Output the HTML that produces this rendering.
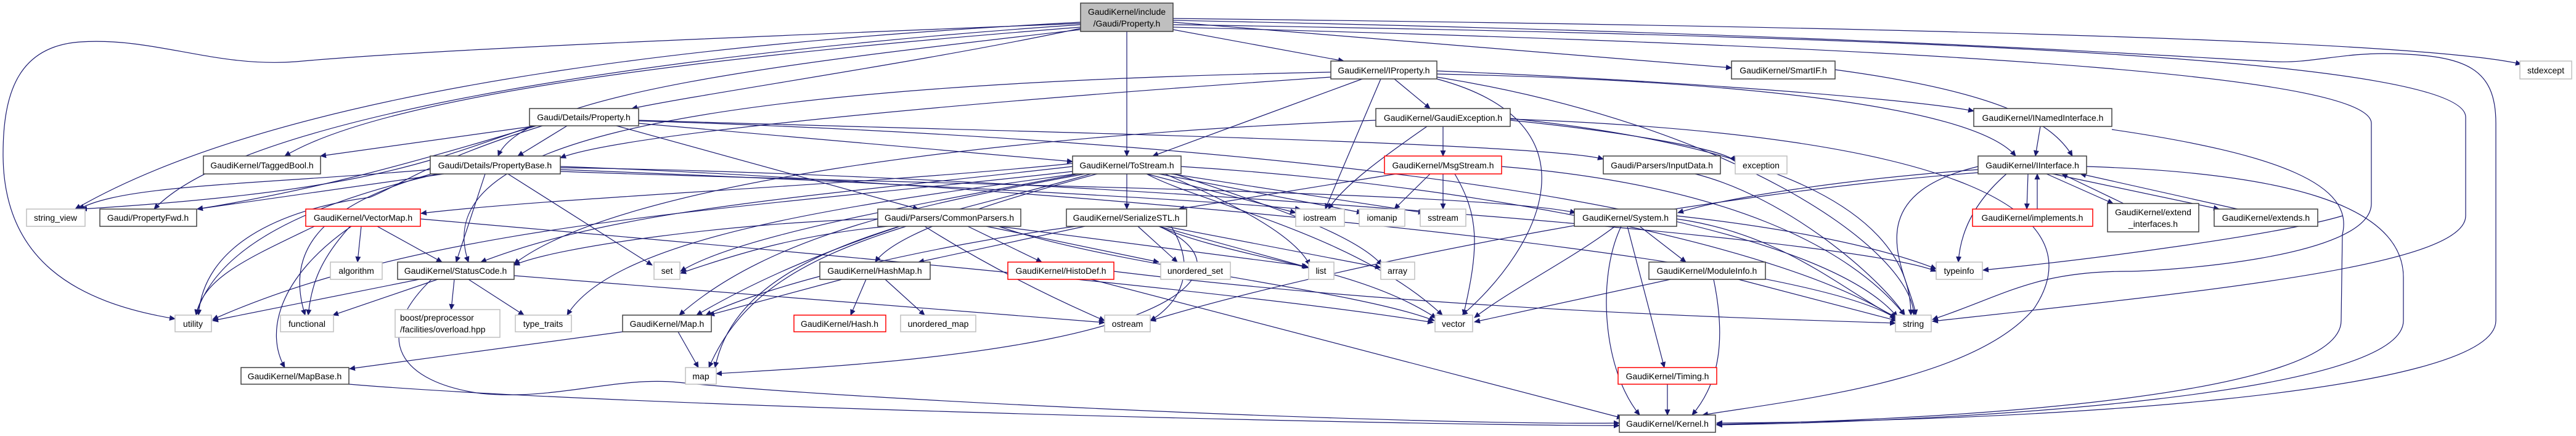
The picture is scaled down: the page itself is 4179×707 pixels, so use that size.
<!DOCTYPE html>
<html><head><meta charset="utf-8"><style>
html,body{margin:0;padding:0;background:#fff;}
svg{display:block;}
text{font-family:"Liberation Sans",sans-serif;font-size:14px;fill:#000;}
.n{fill:#fff;stroke:#404040;stroke-width:1.5;}
.g{fill:#fff;stroke:#bfbfbf;stroke-width:1.5;}
.r{fill:#fff;stroke:#ff0000;stroke-width:1.5;}
.e{fill:none;stroke:#191970;stroke-width:1.2;marker-end:url(#a);}
</style></head><body>
<svg width="4179" height="707" viewBox="0 0 4179 707" xmlns="http://www.w3.org/2000/svg">
<defs><marker id="a" markerWidth="10" markerHeight="10" refX="9" refY="5" orient="auto" markerUnits="userSpaceOnUse"><path d="M0,0.5 L10,5 L0,9.5 z" fill="#191970"/></marker></defs>
<g>
<!-- root edges -->
<path class="e" d="M1753,36 C1300,60 500,120 122,339"/>
<path class="e" d="M1753,40 C1300,70 420,160 250,339"/>
<path class="e" d="M1753,44 C1300,80 650,140 462,253"/>
<path class="e" d="M1753,48 C1300,100 850,150 808,253"/>
<path class="e" d="M1753,46 C1500,100 1150,150 1025,176"/>
<path class="e" d="M1753,38 C1200,60 700,80 480,100 C350,110 250,60 130,68 C30,75 5,150 5,250 C5,420 120,490 284,517"/>
<path class="e" d="M1828,51 L1828,253"/>
<path class="e" d="M1903,48 L2180,99"/>
<path class="e" d="M1903,36 L2809,110"/>
<path class="e" d="M1903,30 C2800,40 3900,60 4090,104"/>
<path class="e" d="M1903,33 C3000,55 3500,90 3690,100 C3750,103 3800,85 3880,87 C4000,90 4049,110 4049,200 L4049,520 C4049,640 3300,683 2785,686"/>
<path class="e" d="M1903,40 C3200,60 4000,100 4000,190 L4000,350 C4000,430 3600,470 3135,521"/>
<path class="e" d="M1903,44 C3300,80 3847,130 3847,200 L3847,330 C3847,420 3500,440 3450,440 C3300,440 3250,480 3135,518"/>
<!-- Property.h -->
<path class="e" d="M870,204 L520,253"/>
<path class="e" d="M920,204 L840,253"/>
<path class="e" d="M865,204 C700,260 600,310 132,339"/>
<path class="e" d="M870,204 C650,270 500,310 320,339"/>
<path class="e" d="M880,204 C700,260 650,300 600,320 C450,340 330,400 322,511"/>
<path class="e" d="M1036,200 L1740,262"/>
<path class="e" d="M1036,195 C1500,210 2500,230 2601,258"/>
<path class="e" d="M1000,204 L1490,339"/>
<path class="e" d="M1036,196 C1800,220 2900,300 3078,514"/>
<!-- PropertyBase -->
<path class="e" d="M698,275 C400,300 200,300 128,339"/>
<path class="e" d="M720,282 L320,339"/>
<path class="e" d="M710,282 C500,330 350,400 318,511"/>
<path class="e" d="M700,282 C530,330 460,400 495,511"/>
<path class="e" d="M787,282 L740,425"/>
<path class="e" d="M824,282 L1058,430"/>
<path class="e" d="M909,270 C1500,290 2900,400 3075,516"/>
<path class="e" d="M909,272 C1600,280 3000,380 3141,440"/>
<path class="e" d="M909,275 C1300,290 1900,320 2110,339"/>
<path class="e" d="M909,278 C1500,300 2400,310 2556,345"/>
<!-- VectorMap -->
<path class="e" d="M586,367 L580,425"/>
<path class="e" d="M612,367 L717,425"/>
<path class="e" d="M510,367 C400,420 330,450 318,511"/>
<path class="e" d="M568,367 C520,420 505,460 500,511"/>
<path class="e" d="M570,367 C450,450 430,540 462,596"/>
<path class="e" d="M682,355 C1200,400 2000,470 2325,523"/>
<!-- StatusCode -->
<path class="e" d="M680,453 L345,520"/>
<path class="e" d="M710,453 L540,511"/>
<path class="e" d="M737,453 L732,502"/>
<path class="e" d="M760,453 L850,511"/>
<path class="e" d="M834,447 L1792,523"/>
<path class="e" d="M700,453 C600,550 650,620 780,638 C900,650 1000,610 1100,620 C1400,650 2300,690 2627,686"/>
<!-- Map / MapBase / HashMap -->
<path class="e" d="M1100,538 L1133,596"/>
<path class="e" d="M1010,538 L567,598"/>
<path class="e" d="M566,623 C1000,660 2300,690 2627,690"/>
<path class="e" d="M1366,453 L1150,511"/>
<path class="e" d="M1405,453 L1380,511"/>
<path class="e" d="M1436,453 L1500,511"/>
<!-- ToStream -->
<path class="e" d="M1740,270 C1300,320 1000,340 780,425"/>
<path class="e" d="M1740,265 C1400,300 900,320 683,346"/>
<path class="e" d="M1760,282 C1500,330 1250,380 1102,511"/>
<path class="e" d="M1780,282 C1600,330 1450,380 1420,425"/>
<path class="e" d="M1828,282 L1828,339"/>
<path class="e" d="M1860,282 L2102,345"/>
<path class="e" d="M1880,282 L2210,345"/>
<path class="e" d="M1900,282 L2310,345"/>
<path class="e" d="M1890,282 C2000,330 2100,380 2125,430"/>
<path class="e" d="M1905,282 C2050,330 2200,380 2242,430"/>
<path class="e" d="M1860,282 C1950,330 2200,380 2340,511"/>
<path class="e" d="M1750,282 C1500,330 1200,380 1104,440"/>
<path class="e" d="M1770,282 C1500,360 1200,400 1160,596"/>
<path class="e" d="M1745,282 C1400,330 1000,380 920,511"/>
<path class="e" d="M1916,270 C2400,300 2900,400 3077,517"/>
<path class="e" d="M1740,278 C1200,340 700,360 345,518"/>
<!-- IProperty -->
<path class="e" d="M2210,128 L1870,253"/>
<path class="e" d="M2240,128 L2150,339"/>
<path class="e" d="M2262,128 L2320,176"/>
<path class="e" d="M2159,125 C1500,170 1000,220 909,256"/>
<path class="e" d="M2159,117 C1000,140 700,250 760,425"/>
<path class="e" d="M2331,120 C2800,130 3200,170 3270,253"/>
<path class="e" d="M2331,115 C2700,130 3100,160 3202,180"/>
<path class="e" d="M2331,125 C2800,200 3100,400 3105,511"/>
<path class="e" d="M2331,128 C2600,200 2500,400 2372,511"/>
<!-- GaudiException -->
<path class="e" d="M2341,205 L2341,253"/>
<path class="e" d="M2315,205 C2250,250 2180,300 2155,339"/>
<path class="e" d="M2450,195 C2600,210 2800,240 2815,262"/>
<path class="e" d="M2232,195 C1600,220 1000,300 834,428"/>
<path class="e" d="M2450,192 C2900,240 3100,350 3100,511"/>
<path class="e" d="M2450,193 C3200,220 3400,350 3300,500 C3200,620 2900,650 2762,673"/>
<!-- MsgStream -->
<path class="e" d="M2320,282 L2262,339"/>
<path class="e" d="M2341,282 L2341,339"/>
<path class="e" d="M2265,282 L1912,339"/>
<path class="e" d="M2360,282 C2400,350 2400,400 2374,511"/>
<path class="e" d="M2436,270 C2800,300 3000,400 3090,511"/>
<!-- CommonParsers -->
<path class="e" d="M1570,367 L1690,425"/>
<path class="e" d="M1600,367 L1880,425"/>
<path class="e" d="M1620,367 L2121,432"/>
<path class="e" d="M1440,367 C1300,380 1200,410 1104,443"/>
<path class="e" d="M1470,367 C1300,420 1200,480 1150,596"/>
<path class="e" d="M1424,355 C1200,360 900,400 834,430"/>
<path class="e" d="M1500,367 C1600,430 1700,480 1792,520"/>
<path class="e" d="M1620,367 C1800,430 2200,470 2327,520"/>
<path class="e" d="M1460,367 C1300,420 1200,470 1130,511"/>
<!-- SerializeSTL -->
<path class="e" d="M1760,367 L1490,425"/>
<path class="e" d="M1745,367 C1500,400 1250,460 1145,511"/>
<path class="e" d="M1900,367 C1950,450 1900,500 1866,520"/>
<path class="e" d="M1880,367 L2123,434"/>
<path class="e" d="M1890,367 L2240,434"/>
<path class="e" d="M1880,367 C2000,420 2200,430 2330,516"/>
<path class="e" d="M1846,367 L1910,425"/>
<path class="e" d="M1880,367 C2000,420 1950,500 1700,550 C1500,590 1250,600 1162,606"/>
<!-- HistoDef -->
<path class="e" d="M1770,453 L2632,678"/>
<path class="e" d="M1807,440 C2300,500 2800,515 3075,524"/>
<!-- System -->
<path class="e" d="M2660,367 L2735,425"/>
<path class="e" d="M2640,367 L2700,596"/>
<path class="e" d="M2630,367 C2590,450 2600,600 2660,673"/>
<path class="e" d="M2620,367 C2550,420 2450,470 2392,515"/>
<path class="e" d="M2720,355 C2900,380 3000,480 3078,515"/>
<path class="e" d="M2720,350 C2900,370 3050,400 3141,436"/>
<!-- ModuleInfo / Timing -->
<path class="e" d="M2710,453 L2392,522"/>
<path class="e" d="M2780,453 C2800,550 2790,620 2745,673"/>
<path class="e" d="M2820,453 L3077,520"/>
<path class="e" d="M2705,623 L2705,673"/>
<!-- SmartIF / INamedInterface / IInterface -->
<path class="e" d="M2977,113 C3250,150 3330,200 3362,253"/>
<path class="e" d="M3310,205 L3302,253"/>
<path class="e" d="M3426,210 C3700,250 3820,300 3800,380 L3798,520 C3798,640 3200,680 2785,688"/>
<path class="e" d="M3385,270 C3700,280 3899,330 3899,450 L3899,520 C3899,640 3200,683 2785,689"/>
<path class="e" d="M3290,282 L3288,339"/>
<path class="e" d="M3305,339 L3305,282"/>
<path class="e" d="M3320,282 L3428,330"/>
<path class="e" d="M3445,330 L3345,282"/>
<path class="e" d="M3330,282 L3600,339"/>
<path class="e" d="M3630,339 L3375,282"/>
<path class="e" d="M3255,282 C3200,330 3180,380 3177,425"/>
<path class="e" d="M3209,275 C3000,290 2800,320 2722,345"/>
<path class="e" d="M3209,280 C2800,310 2200,420 1866,520"/>
<path class="e" d="M3209,270 C3000,320 3100,450 3108,511"/>
<path class="e" d="M2750,282 C2900,320 3050,450 3090,511"/>
<path class="e" d="M3800,350 C3700,380 3400,420 3217,438"/>
</g>
<g>
<rect x="1753" y="5" width="150" height="46" fill="#bfbfbf" stroke="#404040" stroke-width="1.5"/>
<text x="1828" y="24" text-anchor="middle">GaudiKernel/include</text><text x="1828" y="43" text-anchor="middle">/Gaudi/Property.h</text>

<rect class="n" x="2159" y="99" width="172" height="29"/><text x="2245" y="119" text-anchor="middle">GaudiKernel/IProperty.h</text>
<rect class="n" x="2809" y="99" width="168" height="29"/><text x="2893" y="119" text-anchor="middle">GaudiKernel/SmartIF.h</text>
<rect class="g" x="4088" y="99" width="84" height="29"/><text x="4130" y="119" text-anchor="middle">stdexcept</text>
<rect class="n" x="859" y="176" width="177" height="28"/><text x="947" y="195" text-anchor="middle">Gaudi/Details/Property.h</text>
<rect class="n" x="2232" y="176" width="218" height="29"/><text x="2341" y="196" text-anchor="middle">GaudiKernel/GaudiException.h</text>
<rect class="n" x="3202" y="176" width="224" height="29"/><text x="3314" y="196" text-anchor="middle">GaudiKernel/INamedInterface.h</text>
<rect class="n" x="330" y="253" width="190" height="29"/><text x="425" y="273" text-anchor="middle">GaudiKernel/TaggedBool.h</text>
<rect class="n" x="698" y="253" width="211" height="29"/><text x="803" y="273" text-anchor="middle">Gaudi/Details/PropertyBase.h</text>
<rect class="n" x="1740" y="253" width="176" height="29"/><text x="1828" y="273" text-anchor="middle">GaudiKernel/ToStream.h</text>
<rect class="r" x="2246" y="253" width="190" height="29"/><text x="2341" y="273" text-anchor="middle">GaudiKernel/MsgStream.h</text>
<rect class="n" x="2601" y="253" width="190" height="29"/><text x="2696" y="273" text-anchor="middle">Gaudi/Parsers/InputData.h</text>
<rect class="g" x="2815" y="253" width="84" height="29"/><text x="2857" y="273" text-anchor="middle">exception</text>
<rect class="n" x="3209" y="253" width="176" height="29"/><text x="3297" y="273" text-anchor="middle">GaudiKernel/IInterface.h</text>
<rect class="g" x="43" y="339" width="95" height="28"/><text x="90" y="358" text-anchor="middle">string_view</text>
<rect class="n" x="162" y="339" width="157" height="28"/><text x="240" y="358" text-anchor="middle">Gaudi/PropertyFwd.h</text>
<rect class="r" x="496" y="339" width="186" height="28"/><text x="589" y="358" text-anchor="middle">GaudiKernel/VectorMap.h</text>
<rect class="n" x="1424" y="339" width="232" height="28"/><text x="1540" y="358" text-anchor="middle">Gaudi/Parsers/CommonParsers.h</text>
<rect class="n" x="1730" y="339" width="195" height="28"/><text x="1827" y="358" text-anchor="middle">GaudiKernel/SerializeSTL.h</text>
<rect class="g" x="2102" y="339" width="79" height="28"/><text x="2141" y="358" text-anchor="middle">iostream</text>
<rect class="g" x="2205" y="339" width="74" height="28"/><text x="2242" y="358" text-anchor="middle">iomanip</text>
<rect class="g" x="2304" y="339" width="74" height="28"/><text x="2341" y="358" text-anchor="middle">sstream</text>
<rect class="n" x="2554" y="339" width="166" height="28"/><text x="2637" y="358" text-anchor="middle">GaudiKernel/System.h</text>
<rect class="r" x="3200" y="339" width="195" height="28"/><text x="3297" y="358" text-anchor="middle">GaudiKernel/implements.h</text>
<rect class="n" x="3419" y="330" width="148" height="46"/><text x="3493" y="349" text-anchor="middle">GaudiKernel/extend</text><text x="3493" y="368" text-anchor="middle">_interfaces.h</text>
<rect class="n" x="3592" y="339" width="168" height="28"/><text x="3676" y="358" text-anchor="middle">GaudiKernel/extends.h</text>
<rect class="g" x="536" y="425" width="84" height="28"/><text x="578" y="444" text-anchor="middle">algorithm</text>
<rect class="n" x="645" y="425" width="189" height="28"/><text x="739" y="444" text-anchor="middle">GaudiKernel/StatusCode.h</text>
<rect class="g" x="1061" y="425" width="42" height="28"/><text x="1082" y="444" text-anchor="middle">set</text>
<rect class="n" x="1330" y="425" width="179" height="28"/><text x="1419" y="444" text-anchor="middle">GaudiKernel/HashMap.h</text>
<rect class="r" x="1635" y="425" width="172" height="28"/><text x="1721" y="444" text-anchor="middle">GaudiKernel/HistoDef.h</text>
<rect class="g" x="1883" y="425" width="113" height="28"/><text x="1939" y="444" text-anchor="middle">unordered_set</text>
<rect class="g" x="2123" y="425" width="41" height="28"/><text x="2143" y="444" text-anchor="middle">list</text>
<rect class="g" x="2240" y="425" width="55" height="28"/><text x="2267" y="444" text-anchor="middle">array</text>
<rect class="n" x="2675" y="425" width="189" height="28"/><text x="2769" y="444" text-anchor="middle">GaudiKernel/ModuleInfo.h</text>
<rect class="g" x="3141" y="425" width="75" height="28"/><text x="3178" y="444" text-anchor="middle">typeinfo</text>
<rect class="g" x="284" y="511" width="59" height="27"/><text x="313" y="530" text-anchor="middle">utility</text>
<rect class="g" x="455" y="511" width="86" height="27"/><text x="498" y="530" text-anchor="middle">functional</text>
<rect class="g" x="641" y="502" width="170" height="45"/><text x="649" y="520">boost/preprocessor</text><text x="649" y="539">/facilities/overload.hpp</text>
<rect class="g" x="836" y="511" width="91" height="27"/><text x="881" y="530" text-anchor="middle">type_traits</text>
<rect class="n" x="1010" y="511" width="144" height="27"/><text x="1082" y="530" text-anchor="middle">GaudiKernel/Map.h</text>
<rect class="r" x="1288" y="511" width="149" height="27"/><text x="1362" y="530" text-anchor="middle">GaudiKernel/Hash.h</text>
<rect class="g" x="1461" y="511" width="122" height="27"/><text x="1522" y="530" text-anchor="middle">unordered_map</text>
<rect class="g" x="1792" y="511" width="74" height="27"/><text x="1829" y="530" text-anchor="middle">ostream</text>
<rect class="g" x="2328" y="511" width="61" height="27"/><text x="2358" y="530" text-anchor="middle">vector</text>
<rect class="g" x="3075" y="511" width="58" height="27"/><text x="3104" y="530" text-anchor="middle">string</text>
<rect class="n" x="391" y="596" width="175" height="27"/><text x="478" y="615" text-anchor="middle">GaudiKernel/MapBase.h</text>
<rect class="g" x="1112" y="596" width="50" height="27"/><text x="1137" y="615" text-anchor="middle">map</text>
<rect class="r" x="2625" y="596" width="160" height="27"/><text x="2705" y="615" text-anchor="middle">GaudiKernel/Timing.h</text>
<rect class="n" x="2627" y="673" width="156" height="28"/><text x="2705" y="692" text-anchor="middle">GaudiKernel/Kernel.h</text>
</g>
</svg>
</body></html>
